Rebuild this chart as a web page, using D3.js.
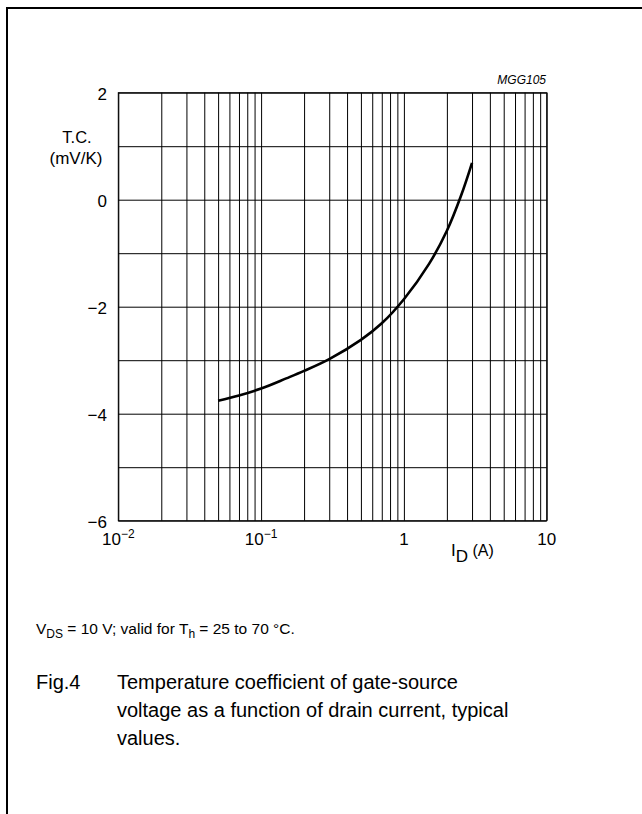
<!DOCTYPE html>
<html><head><meta charset="utf-8">
<script src="https://cdn.jsdelivr.net/npm/d3@7"></script>
<style>
body{margin:0;background:#fff}
svg{display:block}
text{font-family:"Liberation Sans",Arial,Helvetica,sans-serif;fill:#000}
</style>
</head><body>
<svg id="c" width="642" height="814"></svg>
<script>
// Data
const drainCurrent = [0.05, 0.07, 0.1, 0.15, 0.2, 0.3, 0.5, 0.7, 1.0, 1.5, 2.0, 2.5, 3.0];
const tempCoeff    = [-3.76, -3.66, -3.53, -3.34, -3.2, -2.98, -2.62, -2.31, -1.86, -1.2, -0.58, 0.06, 0.69];
const xTickValues = [0.01, 0.1, 1, 10];
const xTickBase   = ["10", "10", "1", "10"];
const xTickExp    = ["\u22122", "\u22121", "", ""];
const yTickValues = [2, 0, -2, -4, -6];
const yTickLabels = ["2", "0", "\u22122", "\u22124", "\u22126"];
const yGridValues = [2, 1, 0, -1, -2, -3, -4, -5, -6];

const svg = d3.select("#c");
const L = 118.3, R = 546.7, T = 92.7, B = 520.7;
const x = d3.scaleLog().domain([0.01, 10]).range([L, R]);
const y = d3.scaleLinear().domain([-6, 2]).range([B, T]);

// page border (top and left)
svg.append("path").attr("d", "M7,814V8H642").attr("fill", "none")
  .attr("stroke", "#000").attr("stroke-width", 2);

// vertical grid
const gx = svg.append("g").attr("transform", `translate(0,${B})`)
  .call(d3.axisBottom(x).tickValues(x.ticks()).tickSizeInner(-(B - T)).tickSizeOuter(0).tickFormat(""));
gx.select(".domain").remove();
gx.selectAll("line").attr("stroke", "#000").attr("stroke-width", 1);

// horizontal grid
const gy = svg.append("g").attr("transform", `translate(${L},0)`)
  .call(d3.axisLeft(y).tickValues(yGridValues).tickSizeInner(-(R - L)).tickSizeOuter(0).tickFormat(""));
gy.select(".domain").remove();
gy.selectAll("line").attr("stroke", "#000").attr("stroke-width", 1);

// frame
svg.append("rect").attr("x", L).attr("y", T).attr("width", R - L).attr("height", B - T)
  .attr("fill", "none").attr("stroke", "#000").attr("stroke-width", 1);

// y tick labels
svg.append("g").selectAll("text").data(yTickValues).join("text")
  .attr("x", 107).attr("y", d => y(d) + 3).attr("text-anchor", "end")
  .attr("dominant-baseline", "middle").attr("font-size", 17)
  .text((d, i) => yTickLabels[i]);

// x tick labels
const xl = svg.append("g").selectAll("text").data(xTickValues).join("text")
  .attr("x", d => x(d)).attr("y", 545).attr("text-anchor", "middle").attr("font-size", 17);
xl.append("tspan").text((d, i) => xTickBase[i]);
xl.append("tspan").attr("dy", -7).attr("font-size", 12).text((d, i) => xTickExp[i]);

// axis titles
svg.append("text").attr("x", 77).attr("y", 143).attr("text-anchor", "middle").attr("font-size", 16.5).text("T.C.");
svg.append("text").attr("x", 76).attr("y", 164).attr("text-anchor", "middle").attr("font-size", 17).text("(mV/K)");
const xt = svg.append("text").attr("x", 451).attr("y", 556).attr("font-size", 17);
xt.append("tspan").text("I");
xt.append("tspan").attr("dy", 6).text("D");
xt.append("tspan").attr("dy", -6).attr("font-size", 16).text(" (A)");

svg.append("text").attr("x", 546).attr("y", 84).attr("text-anchor", "end")
  .attr("font-size", 12).attr("font-style", "italic").text("MGG105");

// curve
const pts = drainCurrent.map((d, i) => [d, tempCoeff[i]]);
svg.append("path").datum(pts)
  .attr("d", d3.line().x(d => x(d[0])).y(d => y(d[1])).curve(d3.curveCatmullRom.alpha(0.5)))
  .attr("fill", "none").attr("stroke", "#000").attr("stroke-width", 2.6);

// captions
const c1 = svg.append("text").attr("x", 36).attr("y", 634).attr("font-size", 15.5);
c1.append("tspan").text("V");
c1.append("tspan").attr("dy", 4).attr("font-size", 12).text("DS");
c1.append("tspan").attr("dy", -4).text(" = 10 V; valid for T");
c1.append("tspan").attr("dy", 4).attr("font-size", 12).text("h");
c1.append("tspan").attr("dy", -4).text(" = 25 to 70 \u00B0C.");

const capLines = ["Temperature coefficient of gate-source", "voltage as a function of drain current, typical", "values."];
svg.append("text").attr("x", 36).attr("y", 689).attr("font-size", 20).text("Fig.4");
svg.append("g").selectAll("text").data(capLines).join("text")
  .attr("x", 117).attr("y", (d, i) => 689 + i * 28).attr("font-size", 20).text(d => d);
</script>
</body></html>
